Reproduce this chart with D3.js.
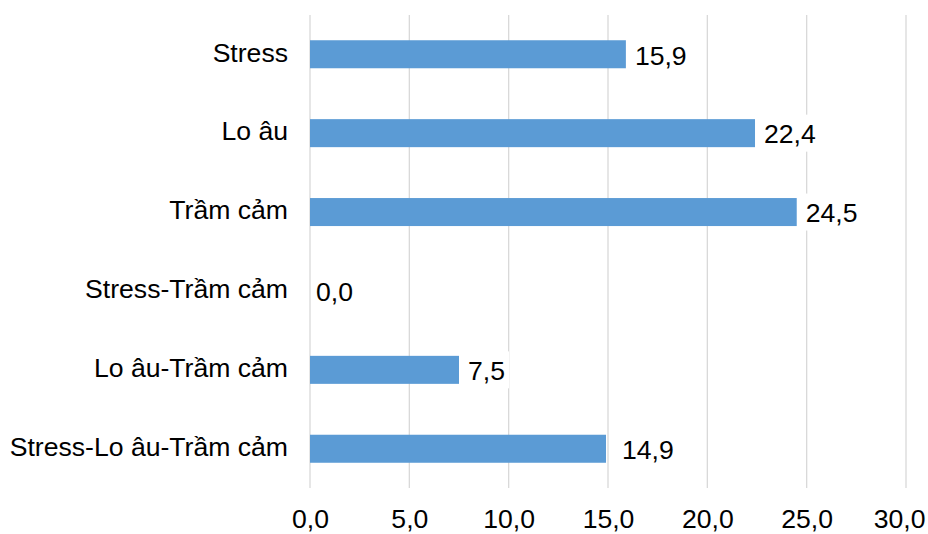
<!DOCTYPE html>
<html>
<head>
<meta charset="utf-8">
<script src="https://cdn.jsdelivr.net/npm/d3@7"></script>
<style>
  html, body { margin: 0; padding: 0; background: #fff; }
  svg { display: block; font-family: "Liberation Sans", Arial, sans-serif; }
</style>
</head>
<body>
<svg id="chart" width="928" height="534"></svg>
<script>
// Categories (top to bottom) and their percentages
const categories = ["Stress", "Lo âu", "Trầm cảm", "Stress-Trầm cảm", "Lo âu-Trầm cảm", "Stress-Lo âu-Trầm cảm"];
const values = [15.9, 22.4, 24.5, 0.0, 7.5, 14.9];
const xTicks = [0, 5, 10, 15, 20, 25, 30];

const fmt = v => v.toFixed(1).replace(".", ",");
const FONT = "Liberation Sans, Arial, sans-serif";
const FS = 26.6;

const svg = d3.select("#chart");
const W = 928;
const plotLeft = 310, plotRight = 906, plotTop = 15, plotBottom = 488;

const x = d3.scaleLinear().domain([0, 30]).range([plotLeft, plotRight]);
const y = d3.scaleBand().domain(categories).range([plotTop, plotBottom]).paddingInner(0.645).paddingOuter(0.32);

// vertical gridlines
svg.append("g").selectAll("line").data(xTicks).join("line")
  .attr("x1", d => x(d)).attr("x2", d => x(d))
  .attr("y1", plotTop).attr("y2", plotBottom)
  .attr("stroke", "#d9d9d9").attr("stroke-width", 1.3);

// x-axis labels
const xAxis = d3.axisBottom(x).tickValues(xTicks).tickFormat(fmt).tickSize(0).tickPadding(0);
const gx = svg.append("g").attr("transform", "translate(0,528)").call(xAxis);
gx.select(".domain").remove();
gx.selectAll("text").attr("dy", null).attr("font-size", FS).attr("fill", "#000").attr("font-family", FONT);
// keep the last tick label inside the canvas
gx.selectAll(".tick").each(function (d) {
  const t = d3.select(this).select("text");
  const w = t.node().getComputedTextLength();
  const overflow = x(d) + w / 2 - (W - 3);
  if (overflow > 0) t.attr("x", -overflow);
});

// category labels
const yAxis = d3.axisLeft(y).tickSize(0).tickPadding(22);
const gy = svg.append("g").attr("transform", `translate(${plotLeft},0)`).call(yAxis);
gy.select(".domain").remove();
gy.selectAll("text").attr("dy", null).attr("y", 7.3)
  .attr("font-size", FS).attr("fill", "#000").attr("font-family", FONT);

// bars
svg.append("g").selectAll("rect").data(categories).join("rect")
  .attr("x", x(0))
  .attr("y", d => y(d))
  .attr("width", (d, i) => x(values[i]) - x(0))
  .attr("height", y.bandwidth())
  .attr("fill", "#5b9bd5");

// value labels on white boxes
const labelNudge = { "Stress-Lo âu-Trầm cảm": 7, "Stress-Trầm cảm": -3 };
const lab = svg.append("g").selectAll("g").data(categories).join("g")
  .attr("transform", (d, i) => `translate(${x(values[i]) + 9 + (labelNudge[d] || 0)},${y(d) + y.bandwidth() / 2})`);
const boxes = lab.append("rect").attr("fill", "#fff");
const texts = lab.append("text")
  .attr("y", 10.3)
  .attr("font-size", FS)
  .attr("font-family", FONT)
  .attr("fill", "#000")
  .text((d, i) => fmt(values[i]));
texts.each(function (d, i) {
  const w = this.getComputedTextLength();
  d3.select(boxes.nodes()[i])
    .attr("x", -4).attr("y", -18.5).attr("width", w + 8).attr("height", 37);
});
</script>
</body>
</html>
